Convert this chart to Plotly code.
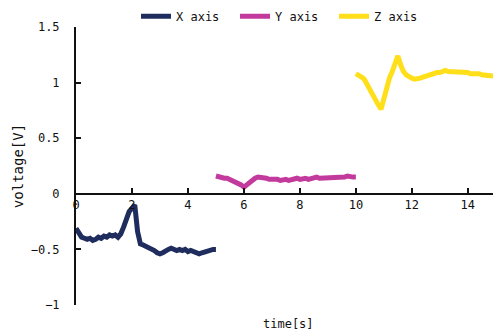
import plotly.graph_objects as go

# ---- data ----
x_series_name = "X axis"
y_series_name = "Y axis"
z_series_name = "Z axis"

x_start, y_start, z_start, step = 0.0, 5.0, 10.0, 0.1

x_vals = [-0.31, -0.36, -0.39, -0.40, -0.41, -0.40, -0.42, -0.41, -0.39, -0.40,
          -0.38, -0.39, -0.37, -0.38, -0.37, -0.39, -0.36, -0.30, -0.22, -0.16,
          -0.13, -0.10, -0.34, -0.45, -0.46, -0.47, -0.48, -0.50, -0.51, -0.53,
          -0.54, -0.53, -0.51, -0.50, -0.49, -0.50, -0.51, -0.50, -0.51, -0.50,
          -0.52, -0.51, -0.52, -0.53, -0.54, -0.53, -0.52, -0.52, -0.51, -0.50,
          -0.50]

y_vals = [0.16, 0.15, 0.15, 0.14, 0.14, 0.13, 0.12, 0.11, 0.10, 0.08,
          0.06, 0.08, 0.11, 0.13, 0.14, 0.15, 0.15, 0.14, 0.14, 0.13,
          0.13, 0.14, 0.13, 0.12, 0.13, 0.13, 0.12, 0.13, 0.13, 0.14,
          0.13, 0.14, 0.14, 0.13, 0.14, 0.14, 0.15, 0.14, 0.14, 0.15,
          0.15, 0.14, 0.15, 0.15, 0.14, 0.15, 0.15, 0.16, 0.15, 0.15,
          0.15]

z_vals = [1.08, 1.07, 1.05, 1.03, 0.98, 0.94, 0.90, 0.85, 0.80, 0.76,
          0.86, 0.96, 1.04, 1.10, 1.19, 1.24, 1.16, 1.10, 1.07, 1.05,
          1.04, 1.03, 1.03, 1.04, 1.05, 1.06, 1.06, 1.07, 1.08, 1.09,
          1.09, 1.10, 1.11, 1.10, 1.10, 1.10, 1.09, 1.10, 1.09, 1.09,
          1.09, 1.08, 1.08, 1.09, 1.08, 1.07, 1.07, 1.07, 1.06, 1.06]

x_ticks = [0, 2, 4, 6, 8, 10, 12, 14]
y_ticks = [-1, -0.5, 0, 0.5, 1, 1.5]

def times(start, n):
    return [round(start + step * i, 2) for i in range(n)]

colors = {"X": "#1f2d5e", "Y": "#c23a9c", "Z": "#ffde1a"}
FONT = "DejaVu Sans Mono"
INK = "#111"

fig = go.Figure()
fig.add_trace(go.Scatter(x=times(x_start, len(x_vals)), y=x_vals, mode="lines",
                         name=x_series_name, line=dict(color=colors["X"], width=5)))
fig.add_trace(go.Scatter(x=times(y_start, len(y_vals)), y=y_vals, mode="lines",
                         name=y_series_name, line=dict(color=colors["Y"], width=5)))
fig.add_trace(go.Scatter(x=times(z_start, len(z_vals)), y=z_vals, mode="lines",
                         name=z_series_name, line=dict(color=colors["Z"], width=5)))

fig.update_layout(
    width=493, height=334,
    margin=dict(l=76, r=0, t=27, b=29, autoexpand=False),
    paper_bgcolor="white", plot_bgcolor="white",
    font=dict(family=FONT, size=12, color=INK),
    showlegend=True,
    legend=dict(orientation="h", x=0.5, xanchor="center", y=0.995, yanchor="top",
                yref="container", font=dict(size=12), itemwidth=30,
                entrywidth=54, tracegroupgap=0),
    xaxis=dict(range=[0, 14.9], tickvals=x_ticks, ticks="inside", ticklen=5,
               tickwidth=2, tickcolor=INK, showline=True, linecolor=INK,
               linewidth=2, showgrid=False, zeroline=False, anchor="free",
               position=0.4),
    yaxis=dict(range=[-1, 1.5], tickvals=y_ticks, ticks="inside", ticklen=5,
               tickwidth=2, tickcolor=INK, showline=True, linecolor=INK,
               linewidth=2, showgrid=False, zeroline=False, ticklabelstandoff=12,
               title=dict(text="voltage[V]", standoff=4)),
    annotations=[dict(text="time[s]", x=0.51, xref="paper", y=-0.035, yref="paper",
                      yanchor="top", showarrow=False, font=dict(size=12))],
)

fig.write_html("out.html")
